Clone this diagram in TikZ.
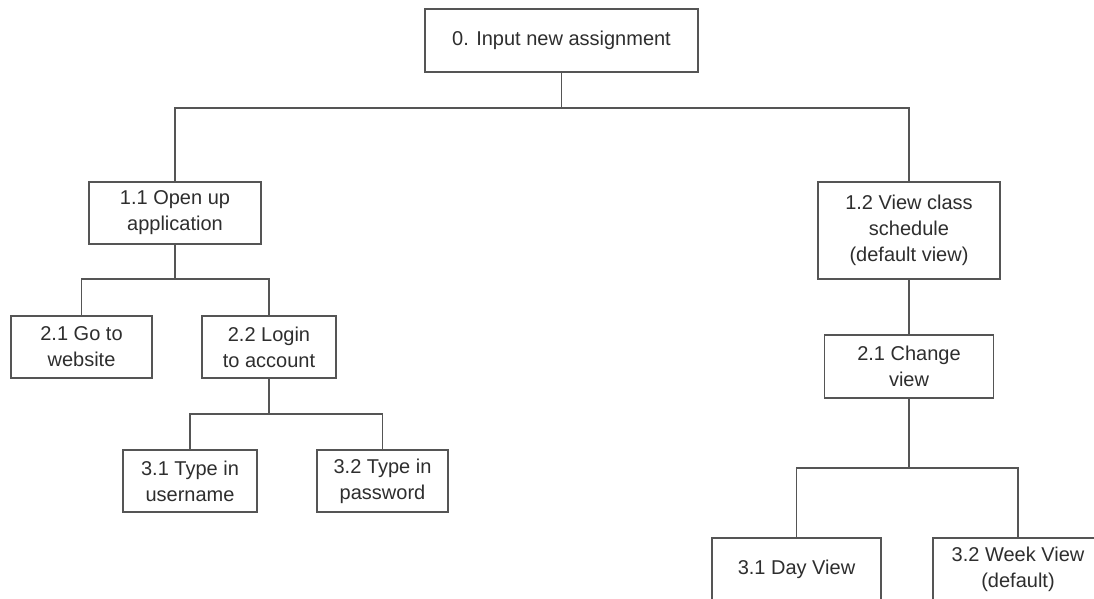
\documentclass[tikz,border=0pt]{standalone}
\usepackage{fontspec}
\setmainfont{Liberation Sans}
\usepackage{xcolor}
\definecolor{boxgray}{HTML}{555555}
\definecolor{textgray}{HTML}{2E2E2E}

\begin{document}
\begin{tikzpicture}[x=1pt,y=-1pt,
  every node/.style={font=\fontsize{20}{26}\selectfont,text=textgray},
  taskbox/.style={draw=boxgray,line width=1.5pt,fill=white,inner sep=0pt,
    align=center,minimum height=62pt},
  link/.style={draw=boxgray,line width=1.6pt}]
  \useasboundingbox (0,0) rectangle (1094,599);
  % root
  \node[taskbox,minimum width=273pt,minimum height=63pt] (n0) at (561.5,40.5) {0. Input new assignment};
  % level 1
  \node[taskbox,minimum width=172pt] (n11) at (175,213) {1.1 Open up\\application};
  \node[taskbox,minimum width=182pt,minimum height=97pt] (n12) at (909,230.5) {1.2 View class\\schedule\\(default view)};
  % level 2, left branch
  \node[taskbox,minimum width=141pt] (n21) at (81.5,347) {2.1 Go to\\website};
  \node[taskbox,minimum width=134pt] (n22) at (269,347) {2.2 Login\\to account};
  % level 3, left branch
  \node[taskbox,minimum width=134pt] (n31) at (190,481) {3.1 Type in\\username};
  \node[taskbox,minimum width=131pt] (n32) at (382.5,481) {3.2 Type in\\password};
  % right branch
  \node[taskbox,minimum width=169pt,minimum height=63pt] (m21) at (909,366.5) {2.1 Change\\view};
  \node[taskbox,minimum width=169pt] (m31) at (796.5,569) {3.1 Day View};
  \node[taskbox,minimum width=170pt] (m32) at (1018,569) {3.2 Week View\\(default)};

  % junctions
  \coordinate (j0) at (561.5,108);
  \coordinate (j11) at (175,279);
  \coordinate (j22) at (269,414);
  \coordinate (j21) at (909,468);

  \draw[link] (n0.south) -- (j0);
  \draw[link] (n11.north) |- (j0) -| (n12.north);
  \draw[link] (n11.south) -- (j11);
  \draw[link] (n21.north) |- (j11) -| (n22.north);
  \draw[link] (n22.south) -- (j22);
  \draw[link] (n31.north) |- (j22) -| (n32.north);
  \draw[link] (n12.south) -- (m21.north);
  \draw[link] (m21.south) -- (j21);
  \draw[link] (m31.north) |- (j21) -| (m32.north);
\end{tikzpicture}
\end{document}
